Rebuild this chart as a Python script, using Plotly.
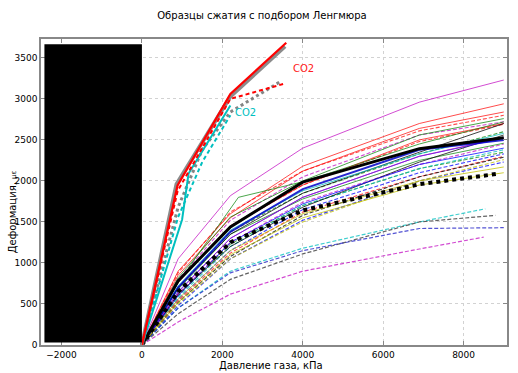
import plotly.graph_objects as go

# ---------------- data ----------------
# Pressure points (kPa) shared by most samples
P = [0, 900, 2200, 4000, 6900, 9000]

# CO2 samples (own pressure points)
co2_red_solid_x = [0, 886, 2200, 3590]
co2_red_solid_y = [0, 1945, 3060, 3685]
co2_gray_fit_x = [0, 860, 2200, 3560]
co2_gray_fit_y = [0, 1960, 3030, 3640]
co2_red_dash_x = [0, 890, 2200, 3540]
co2_red_dash_y = [0, 1880, 3000, 3185]
co2_gray_dot_x = [0, 900, 1500, 2200, 3440]
co2_gray_dot_y = [0, 1680, 2380, 2840, 3210]
co2_cyan_solid_x = [0, 1000, 1160, 2200]
co2_cyan_solid_y = [0, 1530, 2090, 2920]
co2_cyan_dash_x = [0, 900, 1500, 2200]
co2_cyan_dash_y = [0, 1560, 2230, 2800]

# Other gases, strain (microstrain) at pressures P
magenta_solid_1 = [0, 1050, 1820, 2400, 2960, 3230]
red_solid_1 = [0, 900, 1600, 2180, 2700, 2940]
red_solid_2 = [0, 850, 1550, 2120, 2640, 2840]
red_solid_3 = [0, 760, 1450, 1950, 2500, 2700]
green_solid_1 = [0, 820, 1560, 2000, 2560, 2760]
green_solid_2 = [0, 760, 1800, 1990, 2450, 2720]
green_solid_3 = [0, 680, 1350, 1780, 2250, 2460]
black_solid_1 = [0, 700, 1350, 1850, 2350, 2700]
black_solid_2 = [0, 620, 1200, 1680, 2230, 2560]
blue_solid_1 = [0, 650, 1300, 1800, 2300, 2520]
blue_solid_2 = [0, 600, 1250, 1720, 2200, 2400]
cyan_solid_1 = [0, 720, 1400, 1880, 2330, 2580]
magenta_solid_2 = [0, 640, 1300, 1800, 2300, 2530]
yellow_solid_1 = [0, 560, 1150, 1600, 2000, 2170]
yellow_solid_2 = [0, 520, 1100, 1550, 1950, 2100]

red_dash_1 = [0, 880, 1620, 2120, 2610, 2800]
magenta_dash_1 = [0, 800, 1520, 2050, 2560, 2720]
red_dash_2 = [0, 780, 1450, 1950, 2480, 2690]
green_dash_1 = [0, 700, 1380, 1850, 2330, 2600]
green_dash_2 = [0, 600, 1230, 1700, 2150, 2350]
blue_dash_1 = [0, 560, 1150, 1650, 2100, 2330]
red_dash_3 = [0, 540, 1120, 1620, 2050, 2300]
blue_dash_2 = [0, 480, 1050, 1520, 2000, 2230]
yellow_dash_1 = [0, 500, 1050, 1500, 2000, 2260]
cyan_dash_1 = [0, 580, 1200, 1700, 2150, 2380]
magenta_dash_2 = [0, 620, 1250, 1740, 2200, 2450]
black_dash_1 = [0, 520, 1080, 1580, 2050, 2290]

cyan_dash_low_x = [0, 900, 2200, 4000, 6900, 8540]
cyan_dash_low_y = [0, 450, 900, 1180, 1500, 1660]
gray_dash_low_x = [0, 900, 2200, 4000, 6900, 8790]
gray_dash_low_y = [0, 380, 800, 1110, 1500, 1580]
blue_dash_low_y = [0, 450, 880, 1150, 1420, 1430]
magenta_dash_low_x = [0, 900, 2200, 4000, 6900, 8500]
magenta_dash_low_y = [0, 280, 620, 900, 1170, 1315]

mean_fit_solid = [0, 780, 1440, 1985, 2393, 2527]
mean_blue_thick = [0, 700, 1380, 1900, 2380, 2500]
mean_fit_dot_x = [0, 900, 2200, 4000, 6900, 8900]
mean_fit_dot_y = [0, 650, 1250, 1640, 1960, 2090]

# Masked legend area (data units)
mask_x = [-2425, 0]
mask_y = [30, 3665]

# Axis ticks
x_ticks = [-2000, 0, 2000, 4000, 6000, 8000]
x_tick_labels = ["\u22122000", "0", "2000", "4000", "6000", "8000"]
y_ticks = [0, 500, 1000, 1500, 2000, 2500, 3000, 3500]

title_text = "Образцы сжатия с подбором Ленгмюра"
x_title = "Давление газа, кПа"
y_title = "Деформация, <span style='font-size:7px'>με</span>"

# ---------------- styles ----------------
C = {
    "b": "rgba(0,0,255,0.75)", "g": "rgba(0,128,0,0.7)", "r": "rgba(255,0,0,0.7)",
    "c": "rgba(0,191,191,0.75)", "m": "rgba(191,0,191,0.7)", "y": "rgba(191,191,0,0.75)",
    "k": "rgba(0,0,0,0.75)",
}
SHORT_DASH = "4px,2px"
FONT = dict(size=10, family="DejaVu Sans", color="black")

fig = go.Figure()


def add(x, y, color, width=1.0, dash="solid"):
    fig.add_trace(go.Scatter(x=x, y=y, mode="lines",
                             line=dict(color=color, width=width, dash=dash),
                             hoverinfo="skip", showlegend=False))


# low dashed group
add(cyan_dash_low_x, cyan_dash_low_y, C["c"], 1.2, SHORT_DASH)
add(gray_dash_low_x, gray_dash_low_y, "rgba(60,60,60,0.8)", 1.2, SHORT_DASH)
add(P, blue_dash_low_y, "rgba(40,40,200,0.8)", 1.2, SHORT_DASH)
add(magenta_dash_low_x, magenta_dash_low_y, C["m"], 1.2, SHORT_DASH)

# bundle dashed
for series, col in [(red_dash_1, "r"), (magenta_dash_1, "m"), (red_dash_2, "r"),
                    (green_dash_1, "g"), (green_dash_2, "g"), (blue_dash_1, "b"),
                    (red_dash_3, "r"), (blue_dash_2, "b"), (yellow_dash_1, "y"),
                    (cyan_dash_1, "c"), (magenta_dash_2, "m"), (black_dash_1, "k")]:
    add(P, series, C[col], 1.1, SHORT_DASH)

# bundle solid
for series, col in [(magenta_solid_1, "m"), (red_solid_1, "r"), (red_solid_2, "r"),
                    (red_solid_3, "r"), (green_solid_1, "g"), (green_solid_3, "g"),
                    (black_solid_1, "k"), (black_solid_2, "k"), (blue_solid_1, "b"),
                    (blue_solid_2, "b"), (cyan_solid_1, "c"), (magenta_solid_2, "m"),
                    (yellow_solid_1, "y"), (yellow_solid_2, "y")]:
    add(P, series, C[col], 1.0)
add([0, 900, 2400, 4000, 6900, 9000], green_solid_2, C["g"], 1.0)

# fitted mean curves
add(P, mean_blue_thick, "rgba(0,0,200,0.85)", 2.0)
add(P, mean_fit_solid, "black", 3.0)
add(mean_fit_dot_x, mean_fit_dot_y, "black", 4.0, "4px,4px")

# CO2 group
add(co2_gray_fit_x, co2_gray_fit_y, "rgba(110,110,110,0.8)", 4.0)
add(co2_gray_dot_x, co2_gray_dot_y, "rgba(110,110,110,0.85)", 3.0, "3px,3px")
add(co2_cyan_dash_x, co2_cyan_dash_y, "#00bfbf", 2.0, "4px,3px")
add(co2_cyan_solid_x, co2_cyan_solid_y, "#00bfbf", 2.0)
add(co2_red_dash_x, co2_red_dash_y, "#ff0000", 2.0, "4px,3px")
add(co2_red_solid_x, co2_red_solid_y, "#ff0000", 2.2)

fig.add_annotation(x=3700, y=3375, text="CO2", showarrow=False, xanchor="left",
                   font=dict(color="#ff2020", size=10, family="DejaVu Sans"))
fig.add_annotation(x=2270, y=2835, text="CO2", showarrow=False, xanchor="left",
                   font=dict(color="#00bfbf", size=10, family="DejaVu Sans"))

# axis titles placed as annotations (paper coordinates of the plot area)
fig.add_annotation(xref="paper", yref="paper", x=(12 - 41) / 466, y=(344.5 - 212) / 305.5,
                   text=y_title, textangle=-90, showarrow=False,
                   xanchor="center", yanchor="middle", font=FONT)
fig.add_annotation(xref="paper", yref="paper", x=(271 - 41) / 466, y=(344.5 - 365) / 305.5,
                   text=x_title, showarrow=False,
                   xanchor="center", yanchor="middle", font=FONT)

fig.add_shape(type="rect", xref="x", yref="y", x0=mask_x[0], x1=mask_x[1],
              y0=mask_y[0], y1=mask_y[1], fillcolor="black", line=dict(width=0),
              layer="above")

axis_common = dict(showgrid=True, gridcolor="#d2d2d2", griddash="dot", gridwidth=1,
                   zeroline=False, showline=True, linecolor="#888888", linewidth=1.5,
                   mirror="ticks", ticks="inside", ticklen=4, tickcolor="#888888",
                   automargin=False,
                   tickfont=dict(size=9, family="DejaVu Sans", color="black"))

fig.update_layout(
    width=518, height=373,
    margin=dict(l=41, r=11, t=39, b=28, autoexpand=False),
    paper_bgcolor="white", plot_bgcolor="white",
    title=dict(text=title_text, x=262 / 518, xanchor="center", y=1 - 15 / 373,
               yanchor="middle", automargin=False, font=FONT),
    xaxis=dict(range=[-2510, 9080], tickvals=x_ticks, ticktext=x_tick_labels,
               **axis_common),
    yaxis=dict(range=[0, 3730], tickvals=y_ticks, **axis_common),
)

fig.write_html("out.html", config={"displayModeBar": False},
               post_script="document.body.style.margin='0';document.body.style.padding='0';")
